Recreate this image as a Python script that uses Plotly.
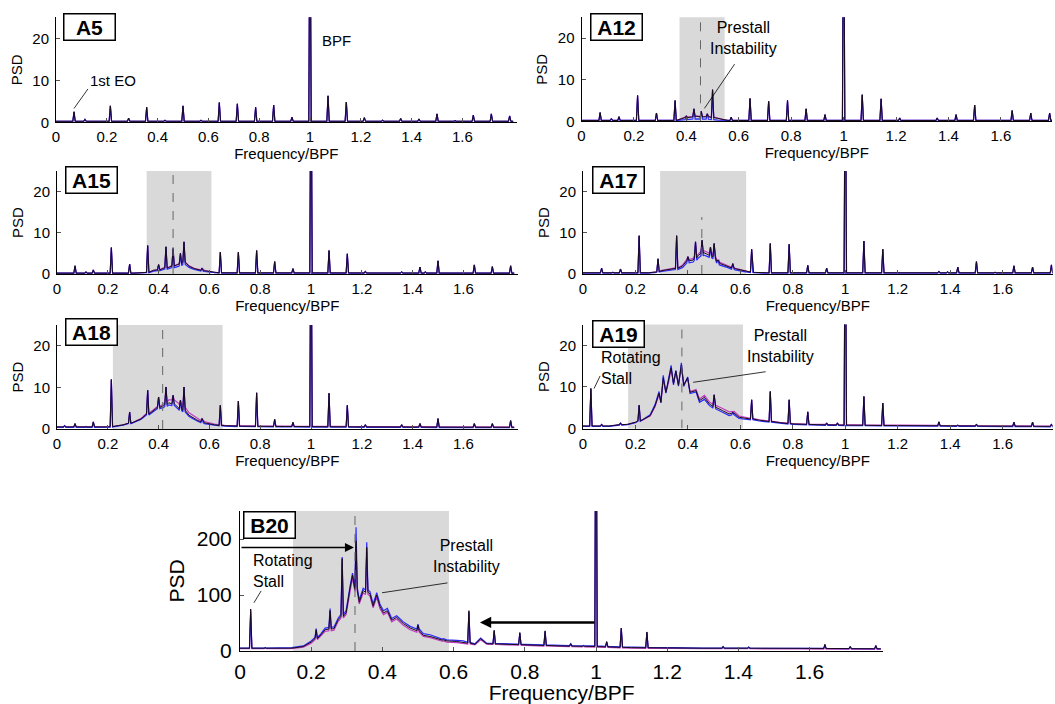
import numpy as np
import plotly.graph_objects as go

FONT = "Arial, Liberation Sans, sans-serif"
W, H = 1055, 704

# ---------------- tick labels ----------------
x_tickvals = [0, 0.2, 0.4, 0.6, 0.8, 1.0, 1.2, 1.4, 1.6]
x_ticktext = ["0", "0.2", "0.4", "0.6", "0.8", "1", "1.2", "1.4", "1.6"]
a_ytickvals = [0, 10, 20]
b_ytickvals = [0, 100, 200]
panel_names = ["A5", "A12", "A15", "A17", "A18", "A19", "B20"]

# shaded prestall band and dashed centre line (Frequency/BPF)
shade_lo = [None, 0.374, 0.353, 0.294, 0.220, 0.172, 0.149]
shade_hi = [None, 0.546, 0.608, 0.622, 0.652, 0.610, 0.587]
dash_x = [None, 0.454, 0.457, 0.453, 0.416, 0.377, 0.323]
dash_top = [None, 25, 25, 13.8, 25, 25, 250]

# ---------------- A5 ----------------
A5_pk_f = [0.071, 0.114, 0.214, 0.286, 0.357, 0.429, 0.5, 0.571, 0.643, 0.714, 0.786, 0.857, 0.929,
           1.0, 1.071, 1.143, 1.214, 1.286, 1.357, 1.429, 1.5, 1.571, 1.643, 1.714, 1.786]
A5_pk_h = [2.5, 0.7, 3.9, 1.0, 3.6, 0.5, 3.9, 0.5, 4.7, 4.4, 3.6, 4.1, 1.2,
           60, 6.3, 4.8, 1.1, 0.5, 0.9, 0.8, 2.0, 0.4, 1.7, 2.0, 1.5]
A5_bg_f = [0, 0.6, 1.2, 1.8]
A5_bg_k = [0.25, 0.25, 0.25, 0.25]

# ---------------- A12 ----------------
A12_pk_f = [0.071, 0.114, 0.143, 0.214, 0.286, 0.357, 0.40, 0.429, 0.457, 0.48, 0.5, 0.571, 0.643,
            0.714, 0.786, 0.857, 0.929, 1.0, 1.071, 1.143, 1.214, 1.357, 1.429, 1.5, 1.643, 1.714, 1.786]
A12_pk_h = [2.1, 0.6, 1.1, 6.2, 2.0, 5.0, 1.3, 3.0, 2.4, 1.8, 7.6, 1.0, 5.5,
            4.8, 5.0, 3.0, 1.6, 60, 6.4, 5.4, 0.8, 0.8, 1.6, 3.9, 2.6, 2.0, 2.0]
A12_bg_f = [0, 0.36, 0.38, 0.40, 0.42, 0.44, 0.46, 0.48, 0.50, 0.52, 0.54, 0.56, 1.8]
A12_bg_k = [0.2, 0.2, 0.6, 0.9, 1.0, 1.2, 1.0, 1.1, 0.9, 0.7, 0.4, 0.2, 0.2]
A12_bg_b = [0.2, 0.2, 0.3, 0.4, 0.5, 0.6, 0.5, 0.5, 0.4, 0.3, 0.2, 0.2, 0.2]
A12_bg_m = [0.2, 0.2, 0.6, 1.0, 1.1, 1.3, 1.1, 1.2, 1.0, 0.8, 0.4, 0.2, 0.2]

# ---------------- A15 ----------------
A15_pk_f = [0.071, 0.114, 0.143, 0.214, 0.286, 0.357, 0.40, 0.429, 0.457, 0.486, 0.5, 0.571, 0.643, 0.714,
            0.786, 0.857, 0.929, 1.0, 1.071, 1.143, 1.214, 1.357, 1.429, 1.45, 1.5, 1.643, 1.714, 1.786]
A15_pk_h = [2.0, 0.5, 1.0, 6.4, 2.4, 6.9, 2.3, 6.6, 6.2, 5.0, 7.8, 1.4, 5.3, 5.3,
            5.7, 3.0, 1.3, 60, 5.7, 4.9, 0.6, 0.5, 1.7, 0.5, 3.2, 2.2, 1.8, 2.0]
A15_bg_f = [0, 0.3, 0.36, 0.38, 0.40, 0.42, 0.44, 0.46, 0.48, 0.50, 0.52, 0.54, 0.56, 0.58, 0.60, 0.62, 1.8]
A15_bg_k = [0.2, 0.2, 0.4, 0.9, 1.0, 1.4, 1.6, 2.0, 2.4, 2.8, 1.9, 1.3, 1.0, 0.8, 0.6, 0.3, 0.2]
A15_bg_b = [0.2, 0.2, 0.3, 0.7, 0.8, 1.1, 1.3, 1.6, 1.9, 2.3, 1.6, 1.1, 0.8, 0.6, 0.4, 0.2, 0.2]
A15_bg_m = [0.2, 0.2, 0.4, 0.9, 1.1, 1.5, 1.7, 2.1, 2.5, 2.9, 2.0, 1.4, 1.1, 0.9, 0.6, 0.3, 0.2]

# ---------------- A17 ----------------
A17_pk_f = [0.071, 0.114, 0.143, 0.214, 0.286, 0.357, 0.40, 0.429, 0.454, 0.486, 0.5, 0.514, 0.571, 0.643,
            0.714, 0.786, 0.857, 0.929, 1.0, 1.071, 1.143, 1.357, 1.39, 1.429, 1.5, 1.571, 1.643, 1.714, 1.786]
A17_pk_h = [1.4, 0.4, 1.2, 9.3, 3.7, 9.3, 4.2, 7.8, 8.2, 6.5, 7.4, 3.4, 2.5, 6.0,
            7.4, 7.2, 2.1, 1.4, 60, 8.0, 6.0, 0.6, 0.5, 1.7, 3.0, 0.4, 2.0, 1.7, 2.2]
A17_bg_f = [0, 0.25, 0.28, 0.30, 0.33, 0.36, 0.38, 0.40, 0.42, 0.44, 0.46, 0.48, 0.50, 0.52, 0.55, 0.58,
            0.60, 0.62, 0.65, 0.7, 1.8]
A17_bg_k = [0.3, 0.3, 0.5, 0.8, 1.1, 1.4, 2.0, 3.2, 3.4, 4.5, 5.2, 4.6, 4.2, 2.6, 1.9, 1.3, 1.0, 0.7, 0.4, 0.3, 0.3]
A17_bg_b = [0.2, 0.2, 0.4, 0.6, 0.9, 1.1, 1.6, 2.7, 2.9, 3.9, 4.6, 4.1, 3.7, 2.2, 1.6, 1.0, 0.7, 0.5, 0.3, 0.2, 0.2]
A17_bg_m = [0.3, 0.3, 0.5, 0.9, 1.2, 1.5, 2.2, 3.5, 3.8, 4.9, 5.7, 5.1, 4.5, 2.9, 2.1, 1.4, 1.1, 0.8, 0.4, 0.3, 0.3]

# ---------------- A18 ----------------
A18_pk_f = [0.03, 0.071, 0.114, 0.143, 0.214, 0.286, 0.357, 0.40, 0.429, 0.457, 0.486, 0.5, 0.571, 0.643,
            0.714, 0.786, 0.857, 0.929, 1.0, 1.071, 1.143, 1.214, 1.357, 1.429, 1.5, 1.643, 1.714, 1.786]
A18_pk_h = [0.8, 1.3, 0.6, 1.7, 11.9, 4.1, 9.3, 7.7, 10.1, 8.1, 6.9, 10.1, 2.5, 5.7,
            6.7, 8.7, 2.3, 1.6, 60, 8.6, 5.7, 1.0, 1.0, 1.3, 2.5, 1.3, 1.3, 2.0]
A18_bg_f = [0, 0.2, 0.22, 0.26, 0.30, 0.33, 0.36, 0.38, 0.40, 0.42, 0.44, 0.46, 0.48, 0.50, 0.52, 0.55,
            0.58, 0.62, 0.66, 0.7, 0.9, 1.2, 1.8]
A18_bg_k = [0.5, 0.5, 0.6, 1.0, 1.6, 2.4, 3.7, 4.4, 5.2, 5.6, 6.3, 6.0, 5.0, 4.5, 3.3, 2.2, 1.5, 1.0, 0.8, 0.7, 0.6, 0.5, 0.4]
A18_bg_b = [0.4, 0.4, 0.5, 0.9, 1.5, 2.3, 3.5, 4.1, 4.9, 5.2, 5.8, 5.6, 4.6, 4.1, 3.0, 2.0, 1.3, 0.9, 0.7, 0.6, 0.5, 0.4, 0.3]
A18_bg_m = [0.5, 0.5, 0.6, 1.0, 1.6, 2.5, 3.9, 4.6, 5.4, 6.0, 7.0, 7.0, 6.1, 5.2, 3.9, 2.6, 1.8, 1.2, 0.9, 0.8, 0.7, 0.6, 0.5]

# ---------------- A19 ----------------
A19_pk_f = [0.03, 0.071, 0.143, 0.214, 0.5, 0.571, 0.643, 0.714, 0.786, 0.857, 0.929, 0.97,
            1.0, 1.071, 1.143, 1.214, 1.357, 1.429, 1.5, 1.643, 1.714, 1.786]
A19_pk_h = [9.6, 1.0, 1.3, 5.6, 8.1, 3.9, 6.9, 8.9, 6.9, 4.0, 1.3, 1.3,
            60, 7.7, 6.1, 0.7, 1.6, 0.8, 1.0, 1.5, 1.5, 1.0]
A19_bg_f = [0, 0.1, 0.14, 0.17, 0.2, 0.23, 0.256, 0.275, 0.29, 0.297, 0.306, 0.316, 0.326, 0.336, 0.345,
            0.354, 0.364, 0.375, 0.384, 0.399, 0.408, 0.431, 0.444, 0.463, 0.482, 0.506, 0.532, 0.557,
            0.576, 0.595, 0.62, 0.672, 0.7, 0.75, 0.8, 0.9, 1.0, 1.2, 1.5, 1.8]
A19_bg_k = [0.6, 0.6, 0.9, 1.0, 1.5, 2.2, 3.1, 5.5, 8.5, 6.3, 12.2, 8.7, 11.4, 14.6, 10.8,
            13.8, 10.4, 15.3, 10.4, 12.2, 8.7, 9.1, 6.7, 7.5, 5.9, 5.1, 4.3, 3.5,
            3.7, 2.7, 2.5, 2.0, 1.8, 1.4, 1.1, 0.9, 0.8, 0.7, 0.6, 0.5]
A19_bg_b = [0.5, 0.5, 0.8, 0.9, 1.4, 2.2, 3.3, 5.8, 8.9, 6.2, 12.8, 8.5, 11.8, 15.2, 10.5,
            14.0, 10.2, 15.8, 10.1, 12.4, 8.4, 8.8, 6.3, 7.0, 5.5, 4.7, 3.9, 3.1,
            3.3, 2.4, 2.3, 1.8, 1.6, 1.3, 1.0, 0.8, 0.7, 0.6, 0.5, 0.4]
A19_bg_m = [0.6, 0.6, 0.9, 1.0, 1.5, 2.1, 3.0, 5.3, 8.2, 6.2, 11.8, 8.7, 11.0, 14.2, 10.9,
            13.6, 10.6, 14.9, 10.7, 12.0, 8.9, 9.4, 7.1, 8.0, 6.4, 5.6, 4.8, 4.0,
            4.1, 3.0, 2.7, 2.1, 1.9, 1.5, 1.2, 1.0, 0.9, 0.8, 0.7, 0.6]

# ---------------- B20 ----------------
B20_pk_f = [0.03, 0.071, 0.214, 0.253, 0.287, 0.326, 0.356, 0.5, 0.571, 0.643, 0.714, 0.786, 0.857, 0.929,
            0.965, 1.0, 1.03, 1.071, 1.143, 1.214, 1.357, 1.429, 1.5, 1.571, 1.643, 1.714, 1.786]
B20_pk_k = [75, 6, 38, 72, 165, 197, 185, 46, 20, 72, 37, 33, 36, 13,
            10, 600, 17, 41, 34, 6, 8, 7, 6, 6, 12, 8, 10]
B20_pk_b = [70, 6, 40, 76, 168, 221, 194, 48, 22, 70, 36, 32, 35, 13,
            10, 600, 16, 40, 33, 6, 8, 7, 6, 6, 11, 8, 9]
B20_pk_m = [73, 5, 35, 66, 158, 190, 178, 42, 18, 68, 35, 31, 34, 12,
            9, 600, 16, 40, 33, 5, 7, 6, 5, 5, 11, 7, 9]
B20_bg_f = [0, 0.1, 0.145, 0.178, 0.2, 0.225, 0.239, 0.264, 0.276, 0.298, 0.309, 0.316, 0.335, 0.346,
            0.365, 0.374, 0.384, 0.393, 0.403, 0.414, 0.426, 0.44, 0.459, 0.478, 0.497, 0.515, 0.534,
            0.553, 0.581, 0.609, 0.627, 0.66, 0.676, 0.693, 0.75, 0.8, 0.9, 1.0, 1.1, 1.3, 1.5, 1.8]
B20_bg_k = [5, 5, 5, 8, 16, 27, 38, 40, 56, 68, 112, 135, 87, 108,
            102, 80, 100, 80, 68, 72, 55, 60, 49, 41, 38, 28, 26,
            22, 18, 17, 16, 12, 22, 13, 12, 11, 9, 8, 6, 5, 5, 4]
B20_bg_b = [5, 5, 6, 9, 18, 29, 41, 43, 59, 72, 115, 139, 91, 112,
            106, 84, 104, 84, 72, 76, 58, 63, 52, 44, 41, 31, 29,
            24, 20, 19, 18, 13, 23, 14, 13, 12, 10, 9, 7, 5, 5, 4]
B20_bg_m = [4, 4, 4, 7, 14, 25, 35, 37, 53, 65, 108, 131, 84, 104,
            98, 77, 96, 76, 65, 69, 52, 57, 46, 38, 35, 26, 24,
            20, 16, 15, 14, 11, 20, 12, 11, 10, 8, 7, 5, 4, 4, 3]


def spectrum(bg_f, bg_h, pk_f, pk_h, hw):
    bg_f = np.asarray(bg_f, float)
    bg_h = np.asarray(bg_h, float)
    keep = np.ones(len(bg_f), bool)
    for f in pk_f:
        keep &= np.abs(bg_f - f) > hw
    xs = list(bg_f[keep])
    ys = list(bg_h[keep])
    for f, h in zip(pk_f, pk_h):
        base = float(np.interp(f, bg_f, bg_h))
        xs += [f - hw, f, f + hw]
        ys += [base, max(h, base), base]
    order = np.argsort(xs, kind="stable")
    return np.array(xs)[order], np.array(ys)[order]


# (name, peaks f, peak heights (k,b,m), bg f, bg (k,b,m))
panels = [
    ("A5", A5_pk_f, (A5_pk_h, A5_pk_h, A5_pk_h), A5_bg_f, (A5_bg_k, A5_bg_k, A5_bg_k)),
    ("A12", A12_pk_f, (A12_pk_h, A12_pk_h, A12_pk_h), A12_bg_f, (A12_bg_k, A12_bg_b, A12_bg_m)),
    ("A15", A15_pk_f, (A15_pk_h, A15_pk_h, A15_pk_h), A15_bg_f, (A15_bg_k, A15_bg_b, A15_bg_m)),
    ("A17", A17_pk_f, (A17_pk_h, A17_pk_h, A17_pk_h), A17_bg_f, (A17_bg_k, A17_bg_b, A17_bg_m)),
    ("A18", A18_pk_f, (A18_pk_h, A18_pk_h, A18_pk_h), A18_bg_f, (A18_bg_k, A18_bg_b, A18_bg_m)),
    ("A19", A19_pk_f, (A19_pk_h, A19_pk_h, A19_pk_h), A19_bg_f, (A19_bg_k, A19_bg_b, A19_bg_m)),
    ("B20", B20_pk_f, (B20_pk_k, B20_pk_b, B20_pk_m), B20_bg_f, (B20_bg_k, B20_bg_b, B20_bg_m)),
]

# pixel boxes of each plot area: (left, right, top, bottom), x range max
boxes = [
    (56, 516.5, 17.3, 122.3, 1.813),
    (581.5, 1052, 17.3, 121.3, 1.795),
    (57, 517.5, 171, 274, 1.813),
    (583, 1052.5, 171, 274, 1.79),
    (57, 517.5, 325, 429, 1.813),
    (583, 1052.5, 324.5, 428.5, 1.79),
    (240, 883.3, 511, 651, 1.807),
]
label_boxes = [
    (63, 13), (590, 13), (65, 166), (592, 166), (65, 318), (592, 320), (243, 511),
]

colors = {"b": "#2b2bff", "m": "#c03cc0", "k": "#1a0a1a"}

fig = go.Figure()
layout = dict(
    template="none",
    width=W, height=H, margin=dict(l=0, r=0, t=0, b=0, autoexpand=False),
    paper_bgcolor="white", plot_bgcolor="white", showlegend=False,
    font=dict(family=FONT, color="black"),
)
shapes = []
annotations = []

for i, (name, pk_f, pk_hs, bg_f, bgs) in enumerate(panels):
    n = i + 1
    xa = "x" if n == 1 else f"x{n}"
    ya = "y" if n == 1 else f"y{n}"
    L, R, T, B, xmax = boxes[i]
    big = name == "B20"
    ppu = (R - L) / xmax
    hw = 1.2 / ppu
    # traces: magenta, blue, black
    for key, idx, wdt in (("m", 2, 1.2), ("b", 1, 1.2), ("k", 0, 1.0)):
        xs, ys = spectrum(bg_f, bgs[idx], pk_f, pk_hs[idx], hw)
        fig.add_trace(go.Scatter(x=xs, y=ys, mode="lines", xaxis=xa, yaxis=ya,
                                 line=dict(color=colors[key], width=wdt), hoverinfo="skip"))
    tfs = 21 if big else 15
    tts = 21 if big else 15
    layout[("xaxis" if n == 1 else f"xaxis{n}")] = dict(
        domain=[L / W, R / W], anchor=ya, range=[0, xmax], automargin=False,
        tickvals=x_tickvals, ticktext=x_ticktext, ticks="inside", ticklen=4,
        tickcolor="#555", showline=True, linecolor="black", linewidth=1,
        showgrid=False, zeroline=False, tickfont=dict(size=tfs, family=FONT),
        ticklabelstandoff=2 if big else 1,
        title=dict(text="Frequency/BPF", font=dict(size=tts, family=FONT), standoff=2),
        fixedrange=True,
    )
    layout[("yaxis" if n == 1 else f"yaxis{n}")] = dict(
        domain=[1 - B / H, 1 - T / H], anchor=xa, automargin=False,
        range=[0, 250] if big else [0, 25],
        tickvals=b_ytickvals if big else a_ytickvals, ticks="inside", ticklen=4,
        tickcolor="#555", showline=True, linecolor="black", linewidth=1,
        showgrid=False, zeroline=False, tickfont=dict(size=tfs, family=FONT),
        ticklabelstandoff=3,
        title=dict(text="PSD", font=dict(size=tts, family=FONT), standoff=6),
        fixedrange=True,
    )
    if shade_lo[i] is not None:
        shapes.append(dict(type="rect", xref=xa, yref=ya + " domain", x0=shade_lo[i], x1=shade_hi[i],
                           y0=0, y1=1, fillcolor="#d9d9d9", line=dict(width=0), layer="below"))
        shapes.append(dict(type="line", xref=xa, yref=ya, x0=dash_x[i], x1=dash_x[i],
                           y0=0, y1=dash_top[i], line=dict(color="#666", width=1, dash="dash"),
                           layer="above"))
    lx, ly = label_boxes[i]
    annotations.append(dict(
        text=f"<b>{name}</b>", xref="paper", yref="paper", x=lx / W, y=1 - ly / H,
        xanchor="left", yanchor="top", showarrow=False, width=48, height=23,
        bgcolor="white", bordercolor="black", borderwidth=1.5, borderpad=1,
        font=dict(size=21, family=FONT, color="black"),
    ))


def txt(xa, ya, x, y, text, size=16, xanchor="center", align="center"):
    annotations.append(dict(text=text, xref=xa, yref=ya, x=x, y=y, xanchor=xanchor,
                            yanchor="middle", align=align, showarrow=False,
                            font=dict(size=size, family=FONT, color="black")))


def seg(xa, ya, x0, y0, x1, y1, head=0, width=0.8, size=1.0):
    annotations.append(dict(text="", xref=xa, yref=ya, axref=xa, ayref=ya,
                            ax=x0, ay=y0, x=x1, y=y1, showarrow=True, arrowhead=head,
                            arrowwidth=width, arrowsize=size, arrowcolor="black", standoff=0))


# A5
txt("x", "y", 1.04, 19.5, "BPF", 15, "left", "left")
txt("x", "y", 0.124, 10.0, "1st EO", 15, "left", "left")
seg("x", "y", 0.13, 8.3, 0.071, 3.3)
# A12
txt("x2", "y2", 0.618, 20.0, "Prestall<br>Instability", 16)
seg("x2", "y2", 0.588, 14.1, 0.469, 3.1)
# A19
txt("x6", "y6", 0.062, 14.5, "Rotating<br>Stall", 16, "left", "left")
seg("x6", "y6", 0.068, 13.0, 0.042, 9.6)
txt("x6", "y6", 0.752, 19.8, "Prestall<br>Instability", 16)
seg("x6", "y6", 0.702, 13.7, 0.42, 11.1)
# B20
txt("x7", "y7", 0.031, 142, "Rotating<br>Stall", 16, "left", "left")
seg("x7", "y7", 0.062, 110, 0.039, 86)
txt("x7", "y7", 0.635, 169, "Prestall<br>Instability", 16)
seg("x7", "y7", 0.587, 122, 0.399, 104)
seg("x7", "y7", 0.0, 185, 0.32, 185, head=2, width=1.5, size=1.2)
seg("x7", "y7", 1.0, 51, 0.674, 51, head=2, width=2.5, size=0.9)

layout["shapes"] = shapes
layout["annotations"] = annotations
fig.update_layout(**layout)
fig.write_html("out.html")
